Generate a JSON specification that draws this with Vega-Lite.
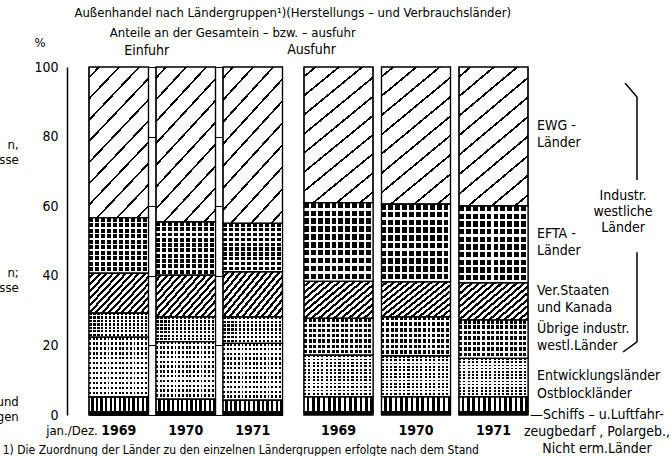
{
"$schema": "https://vega.github.io/schema/vega-lite/v6.json",
"width": 461, "height": 348, "autosize": "none",
"padding": {"left": 67, "top": 67, "right": 143, "bottom": 41},
"background": "white",
"params": [
 {"name": "gEWG", "value": {"gradient": "linear", "x1": 0, "y1": 0, "x2": 0.5, "y2": 1.2, "stops": [
  {"offset": 0, "color": "#fff"},
  {"offset": 0.044, "color": "#fff"}, {"offset": 0.044, "color": "#000"}, {"offset": 0.056, "color": "#000"}, {"offset": 0.056, "color": "#fff"},
  {"offset": 0.144, "color": "#fff"}, {"offset": 0.144, "color": "#000"}, {"offset": 0.156, "color": "#000"}, {"offset": 0.156, "color": "#fff"},
  {"offset": 0.244, "color": "#fff"}, {"offset": 0.244, "color": "#000"}, {"offset": 0.256, "color": "#000"}, {"offset": 0.256, "color": "#fff"},
  {"offset": 0.344, "color": "#fff"}, {"offset": 0.344, "color": "#000"}, {"offset": 0.356, "color": "#000"}, {"offset": 0.356, "color": "#fff"},
  {"offset": 0.444, "color": "#fff"}, {"offset": 0.444, "color": "#000"}, {"offset": 0.456, "color": "#000"}, {"offset": 0.456, "color": "#fff"},
  {"offset": 0.544, "color": "#fff"}, {"offset": 0.544, "color": "#000"}, {"offset": 0.556, "color": "#000"}, {"offset": 0.556, "color": "#fff"},
  {"offset": 0.644, "color": "#fff"}, {"offset": 0.644, "color": "#000"}, {"offset": 0.656, "color": "#000"}, {"offset": 0.656, "color": "#fff"},
  {"offset": 0.744, "color": "#fff"}, {"offset": 0.744, "color": "#000"}, {"offset": 0.756, "color": "#000"}, {"offset": 0.756, "color": "#fff"},
  {"offset": 0.844, "color": "#fff"}, {"offset": 0.844, "color": "#000"}, {"offset": 0.856, "color": "#000"}, {"offset": 0.856, "color": "#fff"},
  {"offset": 0.944, "color": "#fff"}, {"offset": 0.944, "color": "#000"}, {"offset": 0.956, "color": "#000"}, {"offset": 0.956, "color": "#fff"},
  {"offset": 1, "color": "#fff"}]}},
 {"name": "gVS", "value": {"gradient": "linear", "x1": 0, "y1": 0, "x2": 1.169, "y2": 0.731, "stops": [
  {"offset": 0, "color": "#fff"}, {"offset": 0.0367, "color": "#fff"}, {"offset": 0.0367, "color": "#000"}, {"offset": 0.0667, "color": "#000"},
  {"offset": 0.0667, "color": "#fff"}, {"offset": 0.1033, "color": "#fff"}, {"offset": 0.1033, "color": "#000"}, {"offset": 0.1333, "color": "#000"},
  {"offset": 0.1333, "color": "#fff"}, {"offset": 0.17, "color": "#fff"}, {"offset": 0.17, "color": "#000"}, {"offset": 0.2, "color": "#000"},
  {"offset": 0.2, "color": "#fff"}, {"offset": 0.2367, "color": "#fff"}, {"offset": 0.2367, "color": "#000"}, {"offset": 0.2667, "color": "#000"},
  {"offset": 0.2667, "color": "#fff"}, {"offset": 0.3033, "color": "#fff"}, {"offset": 0.3033, "color": "#000"}, {"offset": 0.3333, "color": "#000"},
  {"offset": 0.3333, "color": "#fff"}, {"offset": 0.37, "color": "#fff"}, {"offset": 0.37, "color": "#000"}, {"offset": 0.4, "color": "#000"},
  {"offset": 0.4, "color": "#fff"}, {"offset": 0.4367, "color": "#fff"}, {"offset": 0.4367, "color": "#000"}, {"offset": 0.4667, "color": "#000"},
  {"offset": 0.4667, "color": "#fff"}, {"offset": 0.5033, "color": "#fff"}, {"offset": 0.5033, "color": "#000"}, {"offset": 0.5333, "color": "#000"},
  {"offset": 0.5333, "color": "#fff"}, {"offset": 0.57, "color": "#fff"}, {"offset": 0.57, "color": "#000"}, {"offset": 0.6, "color": "#000"},
  {"offset": 0.6, "color": "#fff"}, {"offset": 0.6367, "color": "#fff"}, {"offset": 0.6367, "color": "#000"}, {"offset": 0.6667, "color": "#000"},
  {"offset": 0.6667, "color": "#fff"}, {"offset": 0.7033, "color": "#fff"}, {"offset": 0.7033, "color": "#000"}, {"offset": 0.7333, "color": "#000"},
  {"offset": 0.7333, "color": "#fff"}, {"offset": 0.77, "color": "#fff"}, {"offset": 0.77, "color": "#000"}, {"offset": 0.8, "color": "#000"},
  {"offset": 0.8, "color": "#fff"}, {"offset": 0.8367, "color": "#fff"}, {"offset": 0.8367, "color": "#000"}, {"offset": 0.8667, "color": "#000"},
  {"offset": 0.8667, "color": "#fff"}, {"offset": 0.9033, "color": "#fff"}, {"offset": 0.9033, "color": "#000"}, {"offset": 0.9333, "color": "#000"},
  {"offset": 0.9333, "color": "#fff"}, {"offset": 0.97, "color": "#fff"}, {"offset": 0.97, "color": "#000"}, {"offset": 1, "color": "#000"}]}},
 {"name": "gOST", "value": {"gradient": "linear", "x1": 0, "y1": 0, "x2": 1, "y2": 0, "stops": [
  {"offset": 0, "color": "#fff"}, {"offset": 0.0385, "color": "#fff"}, {"offset": 0.0385, "color": "#000"}, {"offset": 0.0769, "color": "#000"},
  {"offset": 0.0769, "color": "#fff"}, {"offset": 0.1154, "color": "#fff"}, {"offset": 0.1154, "color": "#000"}, {"offset": 0.1538, "color": "#000"},
  {"offset": 0.1538, "color": "#fff"}, {"offset": 0.1923, "color": "#fff"}, {"offset": 0.1923, "color": "#000"}, {"offset": 0.2308, "color": "#000"},
  {"offset": 0.2308, "color": "#fff"}, {"offset": 0.2692, "color": "#fff"}, {"offset": 0.2692, "color": "#000"}, {"offset": 0.3077, "color": "#000"},
  {"offset": 0.3077, "color": "#fff"}, {"offset": 0.3462, "color": "#fff"}, {"offset": 0.3462, "color": "#000"}, {"offset": 0.3846, "color": "#000"},
  {"offset": 0.3846, "color": "#fff"}, {"offset": 0.4231, "color": "#fff"}, {"offset": 0.4231, "color": "#000"}, {"offset": 0.4615, "color": "#000"},
  {"offset": 0.4615, "color": "#fff"}, {"offset": 0.5, "color": "#fff"}, {"offset": 0.5, "color": "#000"}, {"offset": 0.5385, "color": "#000"},
  {"offset": 0.5385, "color": "#fff"}, {"offset": 0.5769, "color": "#fff"}, {"offset": 0.5769, "color": "#000"}, {"offset": 0.6154, "color": "#000"},
  {"offset": 0.6154, "color": "#fff"}, {"offset": 0.6538, "color": "#fff"}, {"offset": 0.6538, "color": "#000"}, {"offset": 0.6923, "color": "#000"},
  {"offset": 0.6923, "color": "#fff"}, {"offset": 0.7308, "color": "#fff"}, {"offset": 0.7308, "color": "#000"}, {"offset": 0.7692, "color": "#000"},
  {"offset": 0.7692, "color": "#fff"}, {"offset": 0.8077, "color": "#fff"}, {"offset": 0.8077, "color": "#000"}, {"offset": 0.8462, "color": "#000"},
  {"offset": 0.8462, "color": "#fff"}, {"offset": 0.8846, "color": "#fff"}, {"offset": 0.8846, "color": "#000"}, {"offset": 0.9231, "color": "#000"},
  {"offset": 0.9231, "color": "#fff"}, {"offset": 0.9615, "color": "#fff"}, {"offset": 0.9615, "color": "#000"}, {"offset": 1, "color": "#000"}]}},
 {"name": "gV10", "value": {"gradient": "linear", "x1": 0, "y1": 0, "x2": 1, "y2": 0, "stops": [
  {"offset": 0, "color": "rgba(255,255,255,0)"}, {"offset": 0.07, "color": "rgba(255,255,255,0)"}, {"offset": 0.07, "color": "#fff"}, {"offset": 0.1, "color": "#fff"},
  {"offset": 0.1, "color": "rgba(255,255,255,0)"}, {"offset": 0.17, "color": "rgba(255,255,255,0)"}, {"offset": 0.17, "color": "#fff"}, {"offset": 0.2, "color": "#fff"},
  {"offset": 0.2, "color": "rgba(255,255,255,0)"}, {"offset": 0.27, "color": "rgba(255,255,255,0)"}, {"offset": 0.27, "color": "#fff"}, {"offset": 0.3, "color": "#fff"},
  {"offset": 0.3, "color": "rgba(255,255,255,0)"}, {"offset": 0.37, "color": "rgba(255,255,255,0)"}, {"offset": 0.37, "color": "#fff"}, {"offset": 0.4, "color": "#fff"},
  {"offset": 0.4, "color": "rgba(255,255,255,0)"}, {"offset": 0.47, "color": "rgba(255,255,255,0)"}, {"offset": 0.47, "color": "#fff"}, {"offset": 0.5, "color": "#fff"},
  {"offset": 0.5, "color": "rgba(255,255,255,0)"}, {"offset": 0.57, "color": "rgba(255,255,255,0)"}, {"offset": 0.57, "color": "#fff"}, {"offset": 0.6, "color": "#fff"},
  {"offset": 0.6, "color": "rgba(255,255,255,0)"}, {"offset": 0.67, "color": "rgba(255,255,255,0)"}, {"offset": 0.67, "color": "#fff"}, {"offset": 0.7, "color": "#fff"},
  {"offset": 0.7, "color": "rgba(255,255,255,0)"}, {"offset": 0.77, "color": "rgba(255,255,255,0)"}, {"offset": 0.77, "color": "#fff"}, {"offset": 0.8, "color": "#fff"},
  {"offset": 0.8, "color": "rgba(255,255,255,0)"}, {"offset": 0.87, "color": "rgba(255,255,255,0)"}, {"offset": 0.87, "color": "#fff"}, {"offset": 0.9, "color": "#fff"},
  {"offset": 0.9, "color": "rgba(255,255,255,0)"}, {"offset": 0.97, "color": "rgba(255,255,255,0)"}, {"offset": 0.97, "color": "#fff"}, {"offset": 1, "color": "#fff"}]}},
 {"name": "gH10", "value": {"gradient": "linear", "x1": 0, "y1": 0, "x2": 0, "y2": 1, "stops": [
  {"offset": 0, "color": "rgba(255,255,255,0)"}, {"offset": 0.07, "color": "rgba(255,255,255,0)"}, {"offset": 0.07, "color": "#fff"}, {"offset": 0.1, "color": "#fff"},
  {"offset": 0.1, "color": "rgba(255,255,255,0)"}, {"offset": 0.17, "color": "rgba(255,255,255,0)"}, {"offset": 0.17, "color": "#fff"}, {"offset": 0.2, "color": "#fff"},
  {"offset": 0.2, "color": "rgba(255,255,255,0)"}, {"offset": 0.27, "color": "rgba(255,255,255,0)"}, {"offset": 0.27, "color": "#fff"}, {"offset": 0.3, "color": "#fff"},
  {"offset": 0.3, "color": "rgba(255,255,255,0)"}, {"offset": 0.37, "color": "rgba(255,255,255,0)"}, {"offset": 0.37, "color": "#fff"}, {"offset": 0.4, "color": "#fff"},
  {"offset": 0.4, "color": "rgba(255,255,255,0)"}, {"offset": 0.47, "color": "rgba(255,255,255,0)"}, {"offset": 0.47, "color": "#fff"}, {"offset": 0.5, "color": "#fff"},
  {"offset": 0.5, "color": "rgba(255,255,255,0)"}, {"offset": 0.57, "color": "rgba(255,255,255,0)"}, {"offset": 0.57, "color": "#fff"}, {"offset": 0.6, "color": "#fff"},
  {"offset": 0.6, "color": "rgba(255,255,255,0)"}, {"offset": 0.67, "color": "rgba(255,255,255,0)"}, {"offset": 0.67, "color": "#fff"}, {"offset": 0.7, "color": "#fff"},
  {"offset": 0.7, "color": "rgba(255,255,255,0)"}, {"offset": 0.77, "color": "rgba(255,255,255,0)"}, {"offset": 0.77, "color": "#fff"}, {"offset": 0.8, "color": "#fff"},
  {"offset": 0.8, "color": "rgba(255,255,255,0)"}, {"offset": 0.87, "color": "rgba(255,255,255,0)"}, {"offset": 0.87, "color": "#fff"}, {"offset": 0.9, "color": "#fff"},
  {"offset": 0.9, "color": "rgba(255,255,255,0)"}, {"offset": 0.97, "color": "rgba(255,255,255,0)"}, {"offset": 0.97, "color": "#fff"}, {"offset": 1, "color": "#fff"}]}},
 {"name": "gV15", "value": {"gradient": "linear", "x1": 0, "y1": 0, "x2": 1, "y2": 0, "stops": [
  {"offset": 0, "color": "rgba(255,255,255,0)"}, {"offset": 0.0433, "color": "rgba(255,255,255,0)"}, {"offset": 0.0433, "color": "#fff"}, {"offset": 0.0667, "color": "#fff"},
  {"offset": 0.0667, "color": "rgba(255,255,255,0)"}, {"offset": 0.11, "color": "rgba(255,255,255,0)"}, {"offset": 0.11, "color": "#fff"}, {"offset": 0.1333, "color": "#fff"},
  {"offset": 0.1333, "color": "rgba(255,255,255,0)"}, {"offset": 0.1767, "color": "rgba(255,255,255,0)"}, {"offset": 0.1767, "color": "#fff"}, {"offset": 0.2, "color": "#fff"},
  {"offset": 0.2, "color": "rgba(255,255,255,0)"}, {"offset": 0.2433, "color": "rgba(255,255,255,0)"}, {"offset": 0.2433, "color": "#fff"}, {"offset": 0.2667, "color": "#fff"},
  {"offset": 0.2667, "color": "rgba(255,255,255,0)"}, {"offset": 0.31, "color": "rgba(255,255,255,0)"}, {"offset": 0.31, "color": "#fff"}, {"offset": 0.3333, "color": "#fff"},
  {"offset": 0.3333, "color": "rgba(255,255,255,0)"}, {"offset": 0.3767, "color": "rgba(255,255,255,0)"}, {"offset": 0.3767, "color": "#fff"}, {"offset": 0.4, "color": "#fff"},
  {"offset": 0.4, "color": "rgba(255,255,255,0)"}, {"offset": 0.4433, "color": "rgba(255,255,255,0)"}, {"offset": 0.4433, "color": "#fff"}, {"offset": 0.4667, "color": "#fff"},
  {"offset": 0.4667, "color": "rgba(255,255,255,0)"}, {"offset": 0.51, "color": "rgba(255,255,255,0)"}, {"offset": 0.51, "color": "#fff"}, {"offset": 0.5333, "color": "#fff"},
  {"offset": 0.5333, "color": "rgba(255,255,255,0)"}, {"offset": 0.5767, "color": "rgba(255,255,255,0)"}, {"offset": 0.5767, "color": "#fff"}, {"offset": 0.6, "color": "#fff"},
  {"offset": 0.6, "color": "rgba(255,255,255,0)"}, {"offset": 0.6433, "color": "rgba(255,255,255,0)"}, {"offset": 0.6433, "color": "#fff"}, {"offset": 0.6667, "color": "#fff"},
  {"offset": 0.6667, "color": "rgba(255,255,255,0)"}, {"offset": 0.71, "color": "rgba(255,255,255,0)"}, {"offset": 0.71, "color": "#fff"}, {"offset": 0.7333, "color": "#fff"},
  {"offset": 0.7333, "color": "rgba(255,255,255,0)"}, {"offset": 0.7767, "color": "rgba(255,255,255,0)"}, {"offset": 0.7767, "color": "#fff"}, {"offset": 0.8, "color": "#fff"},
  {"offset": 0.8, "color": "rgba(255,255,255,0)"}, {"offset": 0.8433, "color": "rgba(255,255,255,0)"}, {"offset": 0.8433, "color": "#fff"}, {"offset": 0.8667, "color": "#fff"},
  {"offset": 0.8667, "color": "rgba(255,255,255,0)"}, {"offset": 0.91, "color": "rgba(255,255,255,0)"}, {"offset": 0.91, "color": "#fff"}, {"offset": 0.9333, "color": "#fff"},
  {"offset": 0.9333, "color": "rgba(255,255,255,0)"}, {"offset": 0.9767, "color": "rgba(255,255,255,0)"}, {"offset": 0.9767, "color": "#fff"}, {"offset": 1, "color": "#fff"}]}},
 {"name": "gH7", "value": {"gradient": "linear", "x1": 0, "y1": 0, "x2": 0, "y2": 1, "stops": [
  {"offset": 0, "color": "rgba(255,255,255,0)"}, {"offset": 0.0929, "color": "rgba(255,255,255,0)"}, {"offset": 0.0929, "color": "#fff"}, {"offset": 0.1429, "color": "#fff"},
  {"offset": 0.1429, "color": "rgba(255,255,255,0)"}, {"offset": 0.2357, "color": "rgba(255,255,255,0)"}, {"offset": 0.2357, "color": "#fff"}, {"offset": 0.2857, "color": "#fff"},
  {"offset": 0.2857, "color": "rgba(255,255,255,0)"}, {"offset": 0.3786, "color": "rgba(255,255,255,0)"}, {"offset": 0.3786, "color": "#fff"}, {"offset": 0.4286, "color": "#fff"},
  {"offset": 0.4286, "color": "rgba(255,255,255,0)"}, {"offset": 0.5214, "color": "rgba(255,255,255,0)"}, {"offset": 0.5214, "color": "#fff"}, {"offset": 0.5714, "color": "#fff"},
  {"offset": 0.5714, "color": "rgba(255,255,255,0)"}, {"offset": 0.6643, "color": "rgba(255,255,255,0)"}, {"offset": 0.6643, "color": "#fff"}, {"offset": 0.7143, "color": "#fff"},
  {"offset": 0.7143, "color": "rgba(255,255,255,0)"}, {"offset": 0.8071, "color": "rgba(255,255,255,0)"}, {"offset": 0.8071, "color": "#fff"}, {"offset": 0.8571, "color": "#fff"},
  {"offset": 0.8571, "color": "rgba(255,255,255,0)"}, {"offset": 0.95, "color": "rgba(255,255,255,0)"}, {"offset": 0.95, "color": "#fff"}, {"offset": 1, "color": "#fff"}]}},
 {"name": "gV16", "value": {"gradient": "linear", "x1": 0, "y1": 0, "x2": 1, "y2": 0, "stops": [
  {"offset": 0, "color": "rgba(255,255,255,0)"}, {"offset": 0.0313, "color": "rgba(255,255,255,0)"}, {"offset": 0.0313, "color": "#fff"}, {"offset": 0.0625, "color": "#fff"},
  {"offset": 0.0625, "color": "rgba(255,255,255,0)"}, {"offset": 0.0938, "color": "rgba(255,255,255,0)"}, {"offset": 0.0938, "color": "#fff"}, {"offset": 0.125, "color": "#fff"},
  {"offset": 0.125, "color": "rgba(255,255,255,0)"}, {"offset": 0.1563, "color": "rgba(255,255,255,0)"}, {"offset": 0.1563, "color": "#fff"}, {"offset": 0.1875, "color": "#fff"},
  {"offset": 0.1875, "color": "rgba(255,255,255,0)"}, {"offset": 0.2188, "color": "rgba(255,255,255,0)"}, {"offset": 0.2188, "color": "#fff"}, {"offset": 0.25, "color": "#fff"},
  {"offset": 0.25, "color": "rgba(255,255,255,0)"}, {"offset": 0.2813, "color": "rgba(255,255,255,0)"}, {"offset": 0.2813, "color": "#fff"}, {"offset": 0.3125, "color": "#fff"},
  {"offset": 0.3125, "color": "rgba(255,255,255,0)"}, {"offset": 0.3438, "color": "rgba(255,255,255,0)"}, {"offset": 0.3438, "color": "#fff"}, {"offset": 0.375, "color": "#fff"},
  {"offset": 0.375, "color": "rgba(255,255,255,0)"}, {"offset": 0.4063, "color": "rgba(255,255,255,0)"}, {"offset": 0.4063, "color": "#fff"}, {"offset": 0.4375, "color": "#fff"},
  {"offset": 0.4375, "color": "rgba(255,255,255,0)"}, {"offset": 0.4688, "color": "rgba(255,255,255,0)"}, {"offset": 0.4688, "color": "#fff"}, {"offset": 0.5, "color": "#fff"},
  {"offset": 0.5, "color": "rgba(255,255,255,0)"}, {"offset": 0.5313, "color": "rgba(255,255,255,0)"}, {"offset": 0.5313, "color": "#fff"}, {"offset": 0.5625, "color": "#fff"},
  {"offset": 0.5625, "color": "rgba(255,255,255,0)"}, {"offset": 0.5938, "color": "rgba(255,255,255,0)"}, {"offset": 0.5938, "color": "#fff"}, {"offset": 0.625, "color": "#fff"},
  {"offset": 0.625, "color": "rgba(255,255,255,0)"}, {"offset": 0.6563, "color": "rgba(255,255,255,0)"}, {"offset": 0.6563, "color": "#fff"}, {"offset": 0.6875, "color": "#fff"},
  {"offset": 0.6875, "color": "rgba(255,255,255,0)"}, {"offset": 0.7188, "color": "rgba(255,255,255,0)"}, {"offset": 0.7188, "color": "#fff"}, {"offset": 0.75, "color": "#fff"},
  {"offset": 0.75, "color": "rgba(255,255,255,0)"}, {"offset": 0.7813, "color": "rgba(255,255,255,0)"}, {"offset": 0.7813, "color": "#fff"}, {"offset": 0.8125, "color": "#fff"},
  {"offset": 0.8125, "color": "rgba(255,255,255,0)"}, {"offset": 0.8438, "color": "rgba(255,255,255,0)"}, {"offset": 0.8438, "color": "#fff"}, {"offset": 0.875, "color": "#fff"},
  {"offset": 0.875, "color": "rgba(255,255,255,0)"}, {"offset": 0.9063, "color": "rgba(255,255,255,0)"}, {"offset": 0.9063, "color": "#fff"}, {"offset": 0.9375, "color": "#fff"},
  {"offset": 0.9375, "color": "rgba(255,255,255,0)"}, {"offset": 0.9688, "color": "rgba(255,255,255,0)"}, {"offset": 0.9688, "color": "#fff"}, {"offset": 1, "color": "#fff"}]}},
 {"name": "gH12", "value": {"gradient": "linear", "x1": 0, "y1": 0, "x2": 0, "y2": 1, "stops": [
  {"offset": 0, "color": "rgba(255,255,255,0)"}, {"offset": 0.0417, "color": "rgba(255,255,255,0)"}, {"offset": 0.0417, "color": "#fff"}, {"offset": 0.0833, "color": "#fff"},
  {"offset": 0.0833, "color": "rgba(255,255,255,0)"}, {"offset": 0.125, "color": "rgba(255,255,255,0)"}, {"offset": 0.125, "color": "#fff"}, {"offset": 0.1667, "color": "#fff"},
  {"offset": 0.1667, "color": "rgba(255,255,255,0)"}, {"offset": 0.2083, "color": "rgba(255,255,255,0)"}, {"offset": 0.2083, "color": "#fff"}, {"offset": 0.25, "color": "#fff"},
  {"offset": 0.25, "color": "rgba(255,255,255,0)"}, {"offset": 0.2917, "color": "rgba(255,255,255,0)"}, {"offset": 0.2917, "color": "#fff"}, {"offset": 0.3333, "color": "#fff"},
  {"offset": 0.3333, "color": "rgba(255,255,255,0)"}, {"offset": 0.375, "color": "rgba(255,255,255,0)"}, {"offset": 0.375, "color": "#fff"}, {"offset": 0.4167, "color": "#fff"},
  {"offset": 0.4167, "color": "rgba(255,255,255,0)"}, {"offset": 0.4583, "color": "rgba(255,255,255,0)"}, {"offset": 0.4583, "color": "#fff"}, {"offset": 0.5, "color": "#fff"},
  {"offset": 0.5, "color": "rgba(255,255,255,0)"}, {"offset": 0.5417, "color": "rgba(255,255,255,0)"}, {"offset": 0.5417, "color": "#fff"}, {"offset": 0.5833, "color": "#fff"},
  {"offset": 0.5833, "color": "rgba(255,255,255,0)"}, {"offset": 0.625, "color": "rgba(255,255,255,0)"}, {"offset": 0.625, "color": "#fff"}, {"offset": 0.6667, "color": "#fff"},
  {"offset": 0.6667, "color": "rgba(255,255,255,0)"}, {"offset": 0.7083, "color": "rgba(255,255,255,0)"}, {"offset": 0.7083, "color": "#fff"}, {"offset": 0.75, "color": "#fff"},
  {"offset": 0.75, "color": "rgba(255,255,255,0)"}, {"offset": 0.7917, "color": "rgba(255,255,255,0)"}, {"offset": 0.7917, "color": "#fff"}, {"offset": 0.8333, "color": "#fff"},
  {"offset": 0.8333, "color": "rgba(255,255,255,0)"}, {"offset": 0.875, "color": "rgba(255,255,255,0)"}, {"offset": 0.875, "color": "#fff"}, {"offset": 0.9167, "color": "#fff"},
  {"offset": 0.9167, "color": "rgba(255,255,255,0)"}, {"offset": 0.9583, "color": "rgba(255,255,255,0)"}, {"offset": 0.9583, "color": "#fff"}, {"offset": 1, "color": "#fff"}]}}
],
"config": {
 "view": {"stroke": null},
 "font": "Liberation Sans Narrow, DejaVu Sans Condensed, sans-serif",
 "text": {"font": "Liberation Sans Narrow, DejaVu Sans Condensed, sans-serif", "color": "black", "fontSize": 14, "lineBreak": "\n", "lineHeight": 17, "baseline": "middle"},
 "rule": {"color": "black"},
 "axisX": {"disable": true},
 "axisY": {"grid": true, "gridColor": "black", "gridOpacity": 1, "gridWidth": 1, "domain": true, "domainColor": "black", "domainWidth": 1.5, "ticks": false, "labelPadding": 9, "labelFontSize": 14, "labelColor": "black", "labelFont": "Liberation Sans Narrow, DejaVu Sans Condensed, sans-serif"}
},
"datasets": {
 "bars": [
  {"flow": "Einfuhr", "year": "1969", "grp": "SCHIFF", "ord": 1, "v": 1.0},
  {"flow": "Einfuhr", "year": "1969", "grp": "OST", "ord": 2, "v": 4.2},
  {"flow": "Einfuhr", "year": "1969", "grp": "ENTW", "ord": 3, "v": 17.2},
  {"flow": "Einfuhr", "year": "1969", "grp": "UEB", "ord": 4, "v": 6.9},
  {"flow": "Einfuhr", "year": "1969", "grp": "VS", "ord": 5, "v": 11.5},
  {"flow": "Einfuhr", "year": "1969", "grp": "EFTA", "ord": 6, "v": 15.9},
  {"flow": "Einfuhr", "year": "1969", "grp": "EWG", "ord": 7, "v": 43.3},
  {"flow": "Einfuhr", "year": "1970", "grp": "SCHIFF", "ord": 1, "v": 1.0},
  {"flow": "Einfuhr", "year": "1970", "grp": "OST", "ord": 2, "v": 3.6},
  {"flow": "Einfuhr", "year": "1970", "grp": "ENTW", "ord": 3, "v": 16.5},
  {"flow": "Einfuhr", "year": "1970", "grp": "UEB", "ord": 4, "v": 7.1},
  {"flow": "Einfuhr", "year": "1970", "grp": "VS", "ord": 5, "v": 12.0},
  {"flow": "Einfuhr", "year": "1970", "grp": "EFTA", "ord": 6, "v": 15.3},
  {"flow": "Einfuhr", "year": "1970", "grp": "EWG", "ord": 7, "v": 44.5},
  {"flow": "Einfuhr", "year": "1971", "grp": "SCHIFF", "ord": 1, "v": 1.0},
  {"flow": "Einfuhr", "year": "1971", "grp": "OST", "ord": 2, "v": 3.3},
  {"flow": "Einfuhr", "year": "1971", "grp": "ENTW", "ord": 3, "v": 16.3},
  {"flow": "Einfuhr", "year": "1971", "grp": "UEB", "ord": 4, "v": 7.6},
  {"flow": "Einfuhr", "year": "1971", "grp": "VS", "ord": 5, "v": 13.0},
  {"flow": "Einfuhr", "year": "1971", "grp": "EFTA", "ord": 6, "v": 13.9},
  {"flow": "Einfuhr", "year": "1971", "grp": "EWG", "ord": 7, "v": 44.9},
  {"flow": "Ausfuhr", "year": "1969", "grp": "SCHIFF", "ord": 1, "v": 1.0},
  {"flow": "Ausfuhr", "year": "1969", "grp": "OST", "ord": 2, "v": 4.3},
  {"flow": "Ausfuhr", "year": "1969", "grp": "ENTW", "ord": 3, "v": 11.9},
  {"flow": "Ausfuhr", "year": "1969", "grp": "UEB", "ord": 4, "v": 10.6},
  {"flow": "Ausfuhr", "year": "1969", "grp": "VS", "ord": 5, "v": 10.6},
  {"flow": "Ausfuhr", "year": "1969", "grp": "EFTA", "ord": 6, "v": 22.6},
  {"flow": "Ausfuhr", "year": "1969", "grp": "EWG", "ord": 7, "v": 39.0},
  {"flow": "Ausfuhr", "year": "1970", "grp": "SCHIFF", "ord": 1, "v": 1.0},
  {"flow": "Ausfuhr", "year": "1970", "grp": "OST", "ord": 2, "v": 4.3},
  {"flow": "Ausfuhr", "year": "1970", "grp": "ENTW", "ord": 3, "v": 11.7},
  {"flow": "Ausfuhr", "year": "1970", "grp": "UEB", "ord": 4, "v": 11.2},
  {"flow": "Ausfuhr", "year": "1970", "grp": "VS", "ord": 5, "v": 10.1},
  {"flow": "Ausfuhr", "year": "1970", "grp": "EFTA", "ord": 6, "v": 22.3},
  {"flow": "Ausfuhr", "year": "1970", "grp": "EWG", "ord": 7, "v": 39.4},
  {"flow": "Ausfuhr", "year": "1971", "grp": "SCHIFF", "ord": 1, "v": 1.0},
  {"flow": "Ausfuhr", "year": "1971", "grp": "OST", "ord": 2, "v": 4.3},
  {"flow": "Ausfuhr", "year": "1971", "grp": "ENTW", "ord": 3, "v": 11.0},
  {"flow": "Ausfuhr", "year": "1971", "grp": "UEB", "ord": 4, "v": 11.0},
  {"flow": "Ausfuhr", "year": "1971", "grp": "VS", "ord": 5, "v": 10.7},
  {"flow": "Ausfuhr", "year": "1971", "grp": "EFTA", "ord": 6, "v": 22.1},
  {"flow": "Ausfuhr", "year": "1971", "grp": "EWG", "ord": 7, "v": 39.9}
 ],
 "labels": [
  {"grp": "EWG", "lab": "EWG -\nLänder"},
  {"grp": "EFTA", "lab": "EFTA -\nLänder"},
  {"grp": "VS", "lab": "Ver.Staaten\nund Kanada"},
  {"grp": "UEB", "lab": "Übrige industr.\nwestl.Länder"},
  {"grp": "ENTW", "lab": "Entwicklungsländer"},
  {"grp": "OST", "lab": "Ostblockländer"},
  {"grp": "SCHIFF", "lab": "—Schiffs – u.Luftfahr-\nzeugbedarf , Polargeb.,\nNicht erm.Länder"}
 ],
 "notes": [
  {"id": "title", "text": "Außenhandel nach Ländergruppen¹)(Herstellungs – und Verbrauchsländer)"},
  {"id": "sub", "text": "Anteile an der Gesamtein – bzw. – ausfuhr"},
  {"id": "pct", "text": "%"},
  {"id": "ein", "text": "Einfuhr"},
  {"id": "aus", "text": "Ausfuhr"},
  {"id": "jan", "text": "jan./Dez."},
  {"id": "foot", "text": "1) Die Zuordnung der Länder zu den einzelnen Ländergruppen erfolgte nach dem Stand"},
  {"id": "f1", "text": "n,\nsse"},
  {"id": "f2", "text": "n;\nsse"},
  {"id": "f3", "text": "und\nngen"},
  {"id": "ind", "text": "Industr.\nwestliche\nLänder"}
 ]
},
"data": {"name": "bars"},
"resolve": {"scale": {"x": "independent"}},
"layer": [
 {
  "encoding": {"x": {"field": "year", "type": "ordinal", "axis": null, "scale": {"type": "band", "domain": ["1969", "1970", "1971"], "range": [22, 215.5], "paddingInner": 0.112, "paddingOuter": 0}}},
  "layer": [
   {
    "transform": [{"filter": "datum.flow === 'Einfuhr'"}],
    "encoding": {
     "y": {"field": "v", "type": "quantitative", "stack": "zero", "title": null, "scale": {"domain": [0, 100], "nice": false}, "axis": {"values": [0, 20, 40, 60, 80, 100]}},
     "detail": {"field": "grp"},
     "order": {"field": "ord", "type": "quantitative"}
    },
    "layer": [
     {"mark": {"type": "bar", "fill": {"expr": "datum.grp === 'EWG' ? gEWG : datum.grp === 'VS' ? gVS : datum.grp === 'OST' ? gOST : '#000'"}, "stroke": "black", "strokeWidth": 1.2}},
     {"mark": {"type": "bar", "fill": {"expr": "datum.grp === 'EFTA' ? gV10 : datum.grp === 'UEB' ? gV15 : datum.grp === 'ENTW' ? gV16 : 'transparent'"}, "strokeWidth": 0}},
     {"mark": {"type": "bar", "fill": {"expr": "datum.grp === 'EFTA' ? gH10 : datum.grp === 'UEB' ? gH7 : datum.grp === 'ENTW' ? gH12 : 'transparent'"}, "strokeWidth": 0}},
     {"mark": {"type": "bar", "fill": "white", "fillOpacity": 0, "stroke": "black", "strokeWidth": 1.2}}
    ]
   },
   {
    "transform": [{"filter": "datum.flow === 'Einfuhr' && datum.grp === 'EWG'"}],
    "mark": {"type": "text", "fontSize": 14, "fontWeight": "bold", "dy": 16},
    "encoding": {"y": {"datum": 0}, "text": {"field": "year"}}
   },
   {"data": {"name": "notes"}, "transform": [{"filter": "datum.id === 'title'"}],
    "mark": {"type": "text", "fontSize": 13, "dx": 40, "dy": -54},
    "encoding": {"x": {"datum": "1971", "axis": null}, "y": {"datum": 100}, "text": {"field": "text"}}},
   {"data": {"name": "notes"}, "transform": [{"filter": "datum.id === 'sub'"}],
    "mark": {"type": "text", "fontSize": 13, "dx": -20, "dy": -34},
    "encoding": {"x": {"datum": "1971", "axis": null}, "y": {"datum": 100}, "text": {"field": "text"}}},
   {"data": {"name": "notes"}, "transform": [{"filter": "datum.id === 'pct'"}],
    "mark": {"type": "text", "fontSize": 13, "dx": -78.75, "dy": -24},
    "encoding": {"x": {"datum": "1969", "axis": null}, "y": {"datum": 100}, "text": {"field": "text"}}},
   {"data": {"name": "notes"}, "transform": [{"filter": "datum.id === 'ein'"}],
    "mark": {"type": "text", "fontSize": 14, "dx": 28, "dy": -16},
    "encoding": {"x": {"datum": "1969", "axis": null}, "y": {"datum": 100}, "text": {"field": "text"}}},
   {"data": {"name": "notes"}, "transform": [{"filter": "datum.id === 'jan'"}],
    "mark": {"type": "text", "fontSize": 13, "align": "right", "dx": -21, "dy": 16},
    "encoding": {"x": {"datum": "1969", "axis": null}, "y": {"datum": 0}, "text": {"field": "text"}}},
   {"data": {"name": "notes"}, "transform": [{"filter": "datum.id === 'foot'"}],
    "mark": {"type": "text", "fontSize": 12, "align": "left", "dx": -116, "dy": 35},
    "encoding": {"x": {"datum": "1969", "axis": null}, "y": {"datum": 0}, "text": {"field": "text"}}},
   {"data": {"name": "notes"}, "transform": [{"filter": "datum.id === 'f1'"}],
    "mark": {"type": "text", "fontSize": 13, "align": "right", "dx": -100, "lineHeight": 15},
    "encoding": {"x": {"datum": "1969", "axis": null}, "y": {"datum": 77.6}, "text": {"field": "text"}}},
   {"data": {"name": "notes"}, "transform": [{"filter": "datum.id === 'f2'"}],
    "mark": {"type": "text", "fontSize": 13, "align": "right", "dx": -100, "lineHeight": 15},
    "encoding": {"x": {"datum": "1969", "axis": null}, "y": {"datum": 40.8}, "text": {"field": "text"}}},
   {"data": {"name": "notes"}, "transform": [{"filter": "datum.id === 'f3'"}],
    "mark": {"type": "text", "fontSize": 13, "align": "right", "dx": -100, "lineHeight": 15},
    "encoding": {"x": {"datum": "1969", "axis": null}, "y": {"datum": 3.6}, "text": {"field": "text"}}}
  ]
 },
 {
  "encoding": {"x": {"field": "year", "type": "ordinal", "axis": null, "scale": {"type": "band", "domain": ["1969", "1970", "1971"], "range": [237, 461], "paddingInner": 0.1097, "paddingOuter": 0}}},
  "layer": [
   {
    "transform": [{"filter": "datum.flow === 'Ausfuhr'"}],
    "encoding": {
     "y": {"field": "v", "type": "quantitative", "stack": "zero", "title": null, "scale": {"domain": [0, 100], "nice": false}, "axis": {"values": [0, 20, 40, 60, 80, 100]}},
     "detail": {"field": "grp"},
     "order": {"field": "ord", "type": "quantitative"}
    },
    "layer": [
     {"mark": {"type": "bar", "fill": {"expr": "datum.grp === 'EWG' ? gEWG : datum.grp === 'VS' ? gVS : datum.grp === 'OST' ? gOST : '#000'"}, "stroke": "black", "strokeWidth": 1.2}},
     {"mark": {"type": "bar", "fill": {"expr": "datum.grp === 'EFTA' ? gV10 : datum.grp === 'UEB' ? gV15 : datum.grp === 'ENTW' ? gV16 : 'transparent'"}, "strokeWidth": 0}},
     {"mark": {"type": "bar", "fill": {"expr": "datum.grp === 'EFTA' ? gH10 : datum.grp === 'UEB' ? gH7 : datum.grp === 'ENTW' ? gH12 : 'transparent'"}, "strokeWidth": 0}},
     {"mark": {"type": "bar", "fill": "white", "fillOpacity": 0, "stroke": "black", "strokeWidth": 1.2}}
    ]
   },
   {
    "transform": [{"filter": "datum.flow === 'Ausfuhr' && datum.grp === 'EWG'"}],
    "mark": {"type": "text", "fontSize": 14, "fontWeight": "bold", "dy": 16},
    "encoding": {"y": {"datum": 0}, "text": {"field": "year"}}
   },
   {
    "transform": [
     {"filter": "datum.flow === 'Ausfuhr' && datum.year === '1971'"},
     {"stack": "v", "groupby": ["year"], "sort": [{"field": "ord", "order": "ascending"}], "as": ["y0", "y1"]},
     {"fold": ["y0", "y1"], "as": ["edge", "pos"]},
     {"aggregate": [{"op": "mean", "field": "pos", "as": "mid"}], "groupby": ["grp", "year"]},
     {"lookup": "grp", "from": {"data": {"name": "labels"}, "key": "grp", "fields": ["lab"]}}
    ],
    "encoding": {"y": {"field": "mid", "type": "quantitative", "title": null, "stack": null}, "text": {"field": "lab"}},
    "layer": [
     {"transform": [{"filter": {"field": "grp", "oneOf": ["EWG", "EFTA", "VS", "UEB", "OST"]}}],
      "mark": {"type": "text", "align": "left", "dx": 43.5, "dy": -10, "fontSize": 14}},
     {"transform": [{"filter": "datum.grp === 'ENTW'"}],
      "mark": {"type": "text", "align": "left", "dx": 43.5, "dy": -1, "fontSize": 14}},
     {"transform": [{"filter": "datum.grp === 'SCHIFF'"}],
      "mark": {"type": "text", "align": "center", "dx": 103.5, "dy": 2, "fontSize": 14}}
    ]
   },
   {"data": {"name": "notes"}, "transform": [{"filter": "datum.id === 'aus'"}],
    "mark": {"type": "text", "fontSize": 14, "dx": -27, "dy": -17},
    "encoding": {"x": {"datum": "1969", "axis": null}, "y": {"datum": 100}, "text": {"field": "text"}}},
   {"data": {"name": "notes"}, "transform": [{"filter": "datum.id === 'ind'"}],
    "layer": [
     {"mark": {"type": "rule", "xOffset": 143.5, "strokeWidth": 1.5},
      "encoding": {"x": {"datum": "1971", "axis": null}, "y": {"datum": 91.4}, "y2": {"datum": 67.5}}},
     {"mark": {"type": "rule", "xOffset": 143.5, "strokeWidth": 1.5},
      "encoding": {"x": {"datum": "1971", "axis": null}, "y": {"datum": 46.8}, "y2": {"datum": 21.0}}},
     {"mark": {"type": "rule", "xOffset": 131.5, "x2Offset": 143.5, "strokeWidth": 1.5},
      "encoding": {"x": {"datum": "1971", "axis": null}, "x2": {"datum": "1971"}, "y": {"datum": 95.4}, "y2": {"datum": 91.4}}},
     {"mark": {"type": "rule", "xOffset": 143.5, "x2Offset": 129.5, "strokeWidth": 1.5},
      "encoding": {"x": {"datum": "1971", "axis": null}, "x2": {"datum": "1971"}, "y": {"datum": 21.0}, "y2": {"datum": 18.1}}},
     {"mark": {"type": "text", "dx": 129.5, "fontSize": 14, "lineHeight": 16},
      "encoding": {"x": {"datum": "1971", "axis": null}, "y": {"datum": 63.0}, "text": {"field": "text"}}}
    ]}
  ]
 }
]
}
